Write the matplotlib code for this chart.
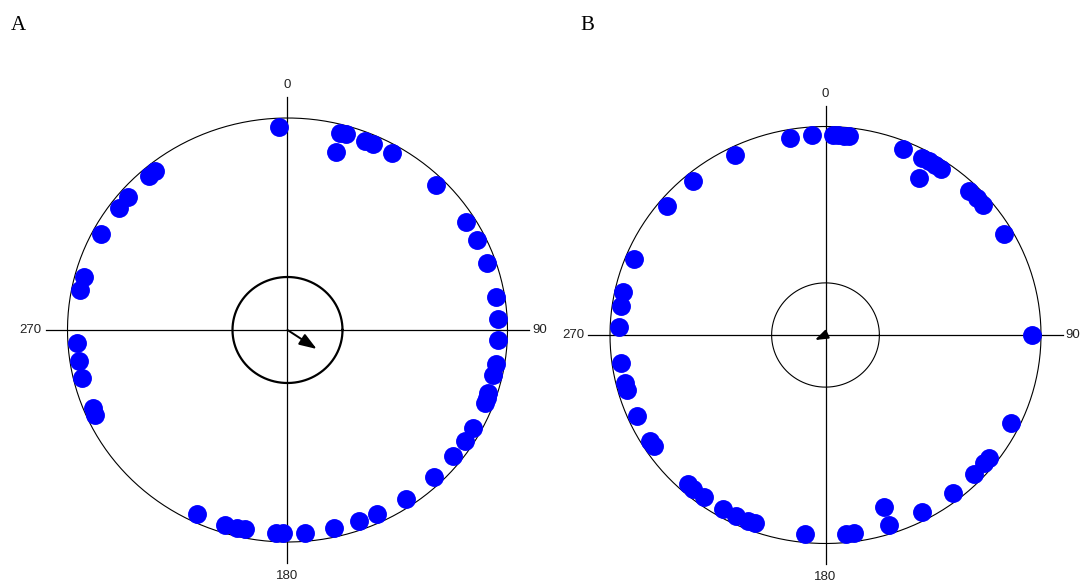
import numpy as np
import matplotlib.pyplot as plt

# bearings in degrees, clockwise from north
a_angles = [357.7, 14.5, 16.0, 21.5, 23.8, 29.6, 44.7, 57.8, 63.6, 70.8,
            80.7, 86.8, 92.8, 99.7, 102.8, 107.9, 109.5, 111.0, 118.8, 122.9,
            128.2, 136.1, 146.0, 155.0, 160.1, 167.2, 175.2, 181.2, 183.1, 191.5,
            193.9, 197.1, 205.3, 245.4, 247.4, 256.5, 261.3, 266.3, 281.3, 285.1,
            298.0, 306.9, 310.9, 319.1, 321.3]
a_stacked = [14.6]
a_mean_dir = 124.0
a_mean_len = 0.16

b_angles = [350.0, 356.2, 2.2, 3.6, 5.1, 6.5, 21.9, 27.7, 29.9, 32.0,
            33.9, 43.8, 46.9, 49.5, 59.8, 90.0, 116.0, 127.9, 129.9, 134.0,
            142.0, 152.1, 162.0, 172.0, 174.4, 185.8, 200.0, 202.0, 205.5, 209.8,
            216.1, 219.8, 221.8, 236.2, 238.1, 246.0, 254.0, 256.0, 262.1, 272.2,
            278.3, 282.4, 292.3, 310.2, 320.2, 334.2]
b_stacked = [29.9, 161.8]
b_mean_dir = 244.0
b_mean_len = 0.055

axis_labels = ["0", "90", "180", "270"]
panel_labels = ["A", "B"]

W, H = 1083, 581
fig = plt.figure(figsize=(W / 100, H / 100), dpi=100)


def circular_panel(cx, cy, rx, ry, angles, stacked, mean_dir, mean_len,
                   inner_lw, head_scale, smooth):
    # axes sized in pixels so that one data unit equals the circle radius
    ax = fig.add_axes([(cx - 1.3 * rx) / W, (H - cy - 1.3 * ry) / H,
                       2.6 * rx / W, 2.6 * ry / H])
    ax.set_xlim(-1.3, 1.3)
    ax.set_ylim(-1.3, 1.3)
    ax.axis("off")

    t = np.linspace(0, 2 * np.pi, 500)
    ax.plot(np.cos(t), np.sin(t), color="black", lw=0.8)
    ax.plot(0.25 * np.cos(t), 0.25 * np.sin(t), color="black", lw=inner_lw)
    ax.plot([-1.1, 1.1], [0, 0], color="black", lw=0.9)
    ax.plot([0, 0], [-1.1, 1.1], color="black", lw=0.9)

    font = dict(fontsize=9.5, family="Liberation Sans", color="#222222")
    ax.text(0, 1.155, axis_labels[0], ha="center", va="center", **font)
    ax.text(1.115, 0, axis_labels[1], ha="left", va="center", **font)
    ax.text(0, -1.16, axis_labels[2], ha="center", va="center", **font)
    ax.text(-1.12, 0, axis_labels[3], ha="right", va="center", **font)

    for ring, vals in ((0.96, angles), (0.87, stacked)):
        th = np.radians(vals)
        ax.scatter(ring * np.sin(th), ring * np.cos(th), s=185, color="blue",
                   linewidths=0, antialiased=smooth, zorder=3)

    th = np.radians(mean_dir)
    ax.annotate("", xy=(mean_len * np.sin(th), mean_len * np.cos(th)), xytext=(0, 0),
                arrowprops=dict(arrowstyle="-|>,head_length=0.7,head_width=0.25",
                                color="black", lw=1.4, mutation_scale=head_scale,
                                shrinkA=0, shrinkB=0))
    return ax


circular_panel(287.5, 330, 220, 212, a_angles, a_stacked, a_mean_dir, a_mean_len,
               1.6, 15, True)
circular_panel(825.5, 335, 215.5, 208.5, b_angles, b_stacked, b_mean_dir, b_mean_len,
               0.8, 11, False)

fig.text(18 / W, 1 - 25 / H, panel_labels[0], fontsize=15, family="Liberation Serif",
         ha="center", va="center")
fig.text(587 / W, 1 - 25 / H, panel_labels[1], fontsize=15, family="Liberation Serif",
         ha="center", va="center")

fig.savefig("out.png", dpi=100)
